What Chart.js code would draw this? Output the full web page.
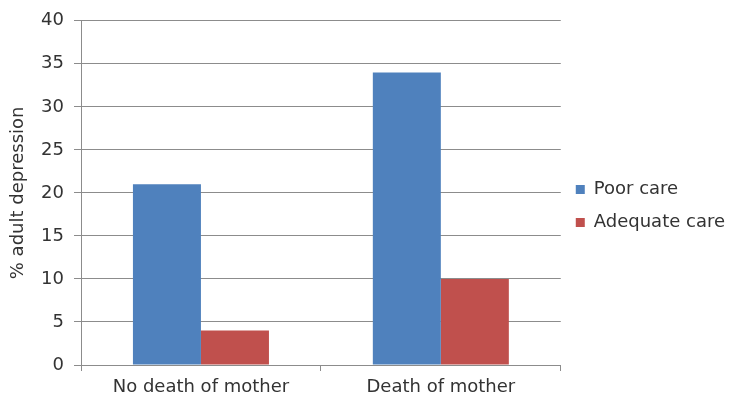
<!DOCTYPE html>
<html>
<head>
<meta charset="utf-8">
<style>
  html, body { margin: 0; padding: 0; background: #fff; }
  #wrap { width: 730px; height: 405px; position: relative; }
</style>
<script src="https://cdn.jsdelivr.net/npm/chart.js@4.4.1/dist/chart.umd.min.js"></script>
</head>
<body>
<div id="wrap"><canvas id="chart" width="730" height="405"></canvas></div>
<script>
// Categories and series
const categories = ['No death of mother', 'Death of mother'];
const seriesNames = ['Poor care', 'Adequate care'];
const poorCare = [21, 34];
const adequateCare = [4, 10];
const yTicks = [0, 5, 10, 15, 20, 25, 30, 35, 40];

const FONT = 'DejaVu Sans, Liberation Sans, Arial, sans-serif';
const TEXT = '#333333';
const GRID = '#8c8c8c';

new Chart(document.getElementById('chart'), {
  type: 'bar',
  data: {
    labels: categories,
    datasets: [
      { label: seriesNames[0], data: poorCare, backgroundColor: '#4F81BD',
        categoryPercentage: 0.567, barPercentage: 1.0 },
      { label: seriesNames[1], data: adequateCare, backgroundColor: '#C0504D',
        categoryPercentage: 0.567, barPercentage: 1.0 }
    ]
  },
  options: {
    responsive: false,
    animation: false,
    devicePixelRatio: 1,
    layout: { padding: { left: 6, top: 19, right: -5, bottom: 12 } },
    plugins: {
      tooltip: { enabled: false },
      legend: {
        position: 'right',
        align: 'center',
        labels: {
          color: TEXT,
          font: { family: FONT, size: 18 },
          boxWidth: 9,
          boxHeight: 9,
          padding: 15
        }
      }
    },
    scales: {
      x: {
        afterFit: (scale) => { scale.height = 28; },
        grid: { display: true, drawOnChartArea: false, drawTicks: true, tickLength: 6, color: GRID, offset: true },
        border: { display: true, color: GRID, width: 1 },
        ticks: { color: TEXT, font: { family: FONT, size: 18 }, padding: 6, maxRotation: 0 }
      },
      y: {
        min: 0,
        max: 40,
        afterFit: (scale) => { scale.width = 75; },
        afterBuildTicks: (scale) => { scale.ticks = yTicks.map(v => ({ value: v })); },
        grid: { color: GRID, lineWidth: 1, tickLength: 7, drawTicks: true },
        border: { display: true, color: GRID, width: 1 },
        ticks: { color: TEXT, font: { family: FONT, size: 18 }, padding: 10 },
        title: {
          display: true,
          text: '% adult depression',
          color: TEXT,
          font: { family: FONT, size: 18 },
          padding: { top: 2, bottom: 6 }
        }
      }
    }
  }
});
</script>
</body>
</html>
